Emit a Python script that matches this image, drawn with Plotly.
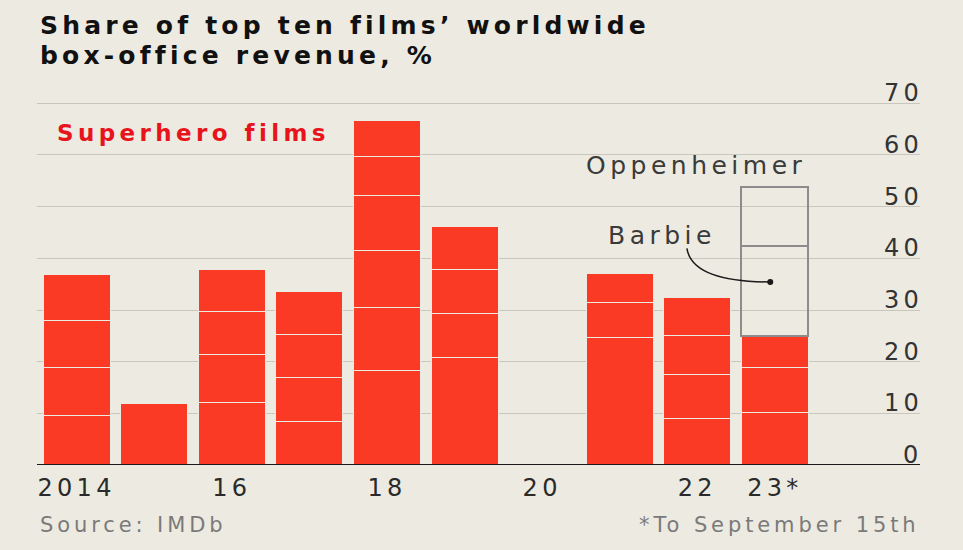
import plotly.graph_objects as go

# ---- data ----
years = [2014, 2015, 2016, 2017, 2018, 2019, 2020, 2021, 2022, 2023]
film1 = [9.5, 11.9, 12.1, 8.4, 18.2, 20.8, None, 24.7, 9.0, 10.2]
film2 = [9.4, None, 9.3, 8.6, 12.2, 8.6, None, 6.8, 8.5, 8.7]
film3 = [9.1, None, 8.4, 8.3, 11.2, 8.5, None, 5.6, 7.5, 6.1]
film4 = [8.9, None, 8.1, 8.3, 10.5, 8.2, None, None, 7.5, None]
film5 = [None, None, None, None, 7.7, None, None, None, None, None]
film6 = [None, None, None, None, 6.8, None, None, None, None, None]
barbie = [None, None, None, None, None, None, None, None, None, 17.4]
oppenheimer = [None, None, None, None, None, None, None, None, None, 11.4]

tick_years = [2014, 2016, 2018, 2020, 2022, 2023]
tick_text = ["2014", "16", "18", "20", "22", "23*"]
y_ticks = [0, 10, 20, 30, 40, 50, 60, 70]

BG = "#EDEAE1"
RED = "#FB3A26"
FONT = "DejaVu Sans"


def spaced(text, px):
    return f'<span style="letter-spacing:{px}px">{text}</span>'


fig = go.Figure()
for seg in [film1, film2, film3, film4, film5, film6]:
    fig.add_trace(go.Bar(x=years, y=seg, marker=dict(color=RED, line=dict(color=BG, width=1)),
                         hoverinfo="skip", showlegend=False))
for seg in [barbie, oppenheimer]:
    fig.add_trace(go.Bar(x=years, y=seg, marker=dict(color="rgba(0,0,0,0)", line=dict(color="#8c8c8c", width=2)),
                         hoverinfo="skip", showlegend=False))

# pointer dot for Barbie
fig.add_trace(go.Scatter(x=[2022.94], y=[35.42], mode="markers",
                         marker=dict(color="#1a1a1a", size=6), hoverinfo="skip", showlegend=False))

fig.update_layout(
    width=963, height=550,
    margin=dict(l=37, r=43, t=101, b=85),
    paper_bgcolor=BG, plot_bgcolor=BG,
    barmode="stack", bargap=0.137,
    font=dict(family=FONT, color="#222222"),
    xaxis=dict(range=[2013.49, 2024.87], tickvals=tick_years,
               ticktext=[spaced(t, 4.3) for t in tick_text],
               showgrid=False, zeroline=False, showline=False, ticks="",
               tickfont=dict(size=24, color="#2a2a2a", family=FONT), ticklabelstandoff=6),
    yaxis=dict(range=[0, 70.45], tickvals=y_ticks, showticklabels=False, showgrid=True,
               gridcolor="#C9C6BE", gridwidth=1, zeroline=False, showline=False, ticks=""),
)

# baseline
fig.add_shape(type="line", xref="paper", yref="y", x0=0, x1=1, y0=0, y1=0,
              line=dict(color="#1a1a1a", width=2), layer="above")

# curved leader for Barbie
fig.add_shape(type="path", xref="x", yref="y",
              path="M 2021.866,41.94 Q 2021.93,35.47 2022.94,35.42",
              line=dict(color="#1a1a1a", width=1.5))

plot_top, plot_bot = 101, 465


def py(pix):
    return (plot_bot - pix) / (plot_bot - plot_top)


def px_(pix):
    return (pix - 37) / 883


# y tick labels above gridlines, right aligned
for v in y_ticks:
    fig.add_annotation(x=1, xref="paper", y=v, yref="y", text=spaced(str(v), 4.3), showarrow=False,
                       xanchor="right", yanchor="bottom", yshift=-6, xshift=5,
                       font=dict(size=24, color="#333333", family=FONT))

# title
fig.add_annotation(x=px_(38), xref="paper", y=py(25), yref="paper",
                   text="<b>" + spaced("Share of top ten films’ worldwide", 4.2) + "</b>",
                   showarrow=False, xanchor="left", yanchor="middle",
                   font=dict(size=25, color="#111111", family=FONT))
fig.add_annotation(x=px_(38), xref="paper", y=py(55), yref="paper",
                   text="<b>" + spaced("box-office revenue, %", 4.2) + "</b>",
                   showarrow=False, xanchor="left", yanchor="middle",
                   font=dict(size=25, color="#111111", family=FONT))

fig.add_annotation(x=px_(55), xref="paper", y=py(132.7), yref="paper",
                   text="<b>" + spaced("Superhero films", 4.4) + "</b>", showarrow=False,
                   xanchor="left", yanchor="middle",
                   font=dict(size=23, color="#E8141C", family=FONT))
fig.add_annotation(x=px_(584), xref="paper", y=py(165), yref="paper", text=spaced("Oppenheimer", 4.5),
                   showarrow=False, xanchor="left", yanchor="middle",
                   font=dict(size=25, color="#3a3a3a", family=FONT))
fig.add_annotation(x=px_(606), xref="paper", y=py(235), yref="paper", text=spaced("Barbie", 4.5),
                   showarrow=False, xanchor="left", yanchor="middle",
                   font=dict(size=25, color="#3a3a3a", family=FONT))

# footer
fig.add_annotation(x=px_(38), xref="paper", y=py(525), yref="paper", text=spaced("Source: IMDb", 3.9),
                   showarrow=False, xanchor="left", yanchor="middle",
                   font=dict(size=21, color="#7a7a7a", family=FONT))
fig.add_annotation(x=px_(922), xref="paper", y=py(525), yref="paper", text=spaced("*To September 15th", 3.9),
                   showarrow=False, xanchor="right", yanchor="middle",
                   font=dict(size=21, color="#7a7a7a", family=FONT))

fig.write_html("out.html", config={"displayModeBar": False},
               post_script="document.body.style.margin='0';document.body.style.background='%s';" % BG)
